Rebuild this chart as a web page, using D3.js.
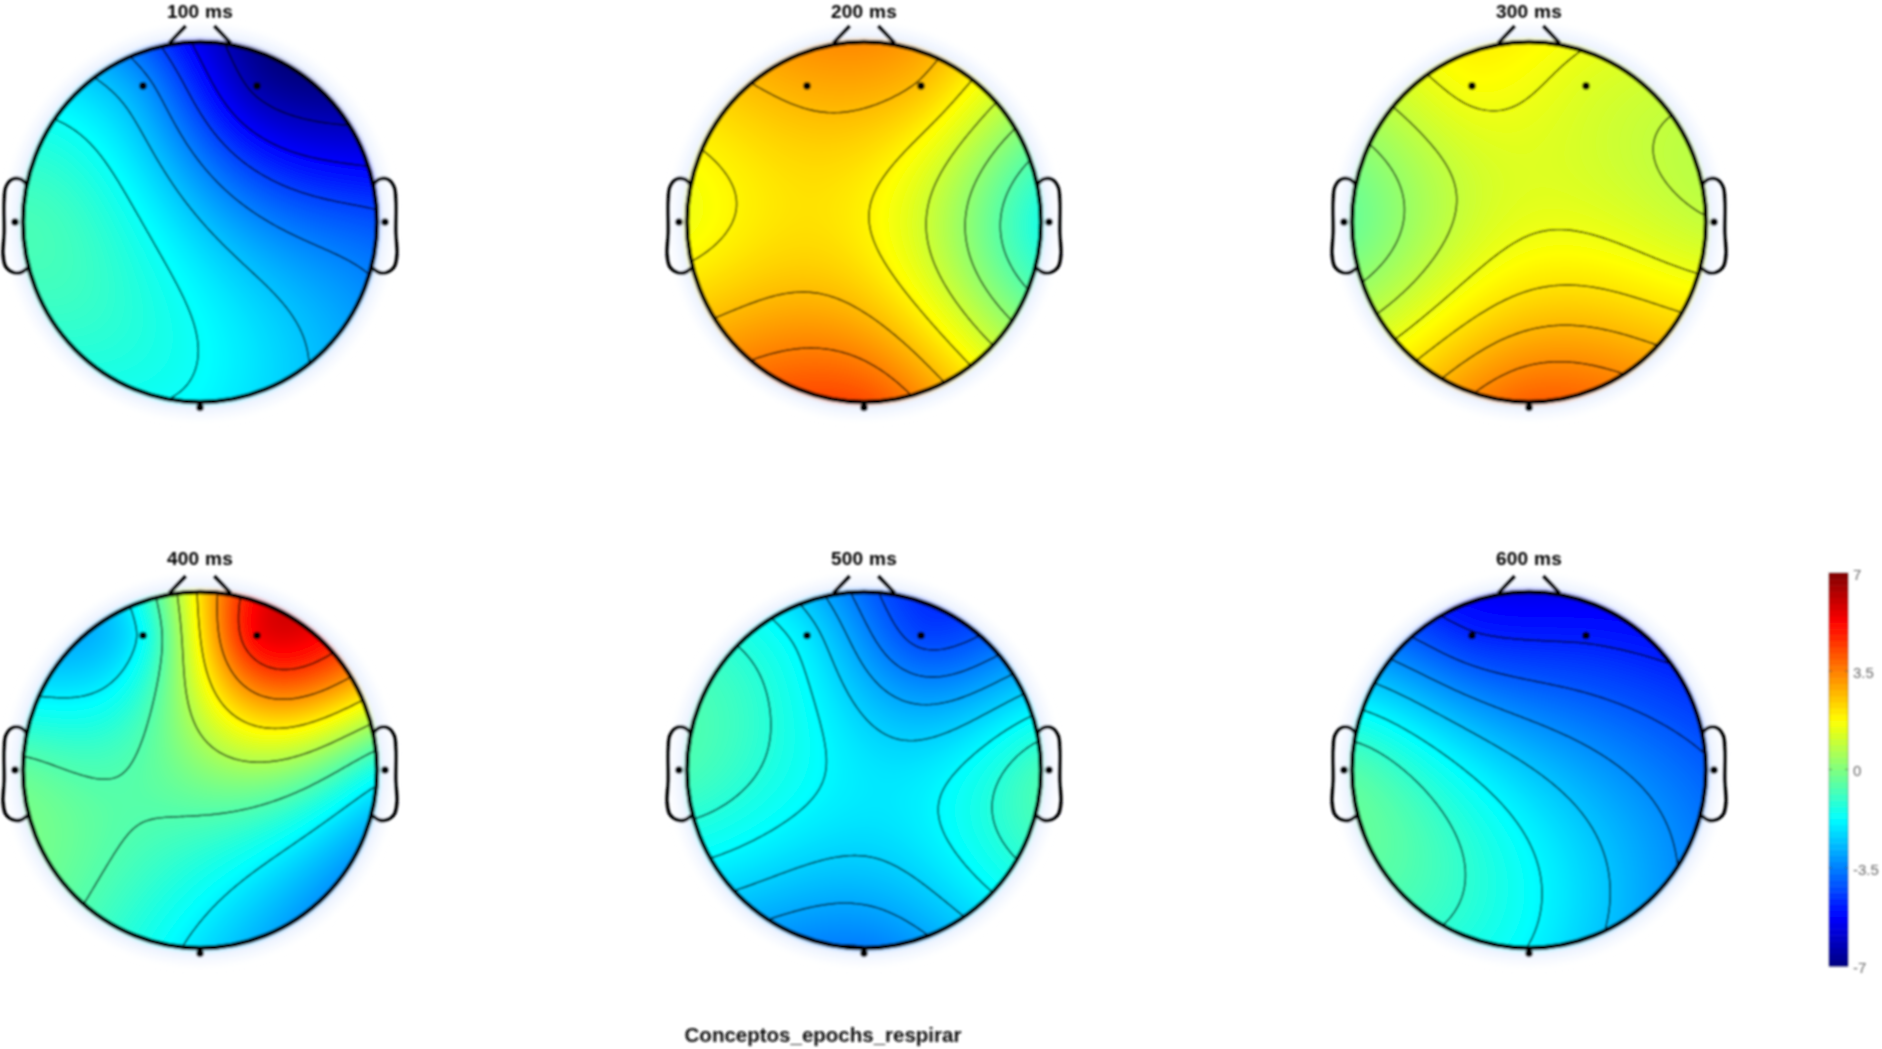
<!DOCTYPE html>
<html>
<head>
<meta charset="utf-8">
<script src="https://cdn.jsdelivr.net/npm/d3@7"></script>
<style>
html, body { margin: 0; padding: 0; background: #fff; }
svg { display: block; }
</style>
</head>
<body>
<div id="chart"></div>
<script>
//electrode sites, head units (head radius is 0.5, y points to the nose)
var siteNames = ["Fp1", "Fp2", "T7", "T8", "Oz"];
var siteX = [-0.161, 0.161, -0.5225, 0.5225, 0];
var siteY = [0.378, 0.378, 0, 0, -0.515];

//values at each electrode
var values100 = [-3.2, -6.4, -0.8, -4.2, -1.85];
var values200 = [2.9, 2.6, 1.55, -1.5, 4.3];
var values300 = [1.7, 1.3, -0.35, 0.95, 4.0];
var values400 = [-1.7, 5.3, -0.4, -1.6, -2.2];
var values500 = [-2.1, -4.3, -0.75, -0.75, -3.6];
var values600 = [-4.7, -4.9, -0.6, -4.0, -1.9];

var panelLabels = ["100 ms", "200 ms", "300 ms", "400 ms", "500 ms", "600 ms"];
var panelValues = [values100, values200, values300, values400, values500, values600];

var colorTicks = [7, 3.5, 0, -3.5, -7];
var jetStops = [-7, -5.25, -1.75, 1.75, 5.25, 7];
var jetColors = ["#000080", "#0000ff", "#00ffff", "#ffff00", "#ff0000", "#800000"];

var title = "Conceptos_epochs_respirar";

//head outline bits
var earX = [0.490, 0.505, 0.530, 0.548, 0.553, 0.553, 0.556, 0.548, 0.525, 0.505, 0.488];
var earY = [0.104, 0.118, 0.119, 0.098, 0.06, -0.03, -0.09, -0.125, -0.141, -0.140, -0.128];
var noseX = [0.087, 0.04];
var noseY = [0.497, 0.545];

//layout
var columns = [200, 864, 1529];
var rows = [{cy: 222, ry: 180, labelY: 18}, {cy: 770, ry: 178, labelY: 565}];
var rx = 177;
var gridSize = 181;
var gridEdge = 0.53;

var color = d3.scaleLinear().domain(jetStops).range(jetColors).clamp(true);
var colorLookup = d3.range(1401).map(function (i) {
    return d3.rgb(color(-7 + i / 100));
});

var svg = d3.select("#chart").append("svg")
    .attr("xmlns", "http://www.w3.org/2000/svg")
    .attr("width", 1882)
    .attr("height", 1049);

var defs = svg.append("defs");
function addBlur(id, size) {
    defs.append("filter")
        .attr("id", id)
        .attr("filterUnits", "userSpaceOnUse")
        .attr("x", 0).attr("y", 0).attr("width", 1882).attr("height", 1049)
        .append("feGaussianBlur")
        .attr("stdDeviation", size);
}
addBlur("soft", 0.85);
addBlur("halo", 6);
addBlur("fringe", 2);

var root = svg.append("g").attr("filter", "url(#soft)");

//small gaussian elimination, the same system griddata v4 solves
function solve(matrix, rhs) {
    var a = matrix.map(function (row, i) { return row.concat([rhs[i]]); });
    var n = a.length;
    for (var c = 0; c < n; c++) {
        var p = c;
        for (var r = c + 1; r < n; r++) {
            if (Math.abs(a[r][c]) > Math.abs(a[p][c])) p = r;
        }
        var tmp = a[c]; a[c] = a[p]; a[p] = tmp;
        for (var r2 = c + 1; r2 < n; r2++) {
            var f = a[r2][c] / a[c][c];
            for (var k = c; k <= n; k++) a[r2][k] -= f * a[c][k];
        }
    }
    var x = new Array(n);
    for (var i = n - 1; i >= 0; i--) {
        var s = a[i][n];
        for (var j = i + 1; j < n; j++) s -= a[i][j] * x[j];
        x[i] = s / a[i][i];
    }
    return x;
}

function green(d) {
    return d > 0 ? d * d * (Math.log(d) - 1) : 0;
}

function makeField(values) {
    var g = siteX.map(function (xa, i) {
        return siteX.map(function (xb, j) {
            return green(Math.hypot(xa - xb, siteY[i] - siteY[j]));
        });
    });
    var w = solve(g, values);
    return function (x, y) {
        var z = 0;
        for (var i = 0; i < w.length; i++) {
            z += w[i] * green(Math.hypot(x - siteX[i], y - siteY[i]));
        }
        return z;
    };
}

function drawPanel(values, label, cx, row, index) {
    var x = d3.scaleLinear().domain([-0.5, 0.5]).range([cx - rx, cx + rx]);
    var y = d3.scaleLinear().domain([0.5, -0.5]).range([row.cy - row.ry, row.cy + row.ry]);
    var field = makeField(values);

    //colour image of the field
    var left = Math.floor(x(-gridEdge)), top = Math.floor(y(gridEdge));
    var w = Math.ceil(x(gridEdge)) - left, h = Math.ceil(y(-gridEdge)) - top;
    var canvas = document.createElement("canvas");
    canvas.width = w;
    canvas.height = h;
    var ctx = canvas.getContext("2d");
    var img = ctx.createImageData(w, h);
    for (var j = 0; j < h; j++) {
        for (var i = 0; i < w; i++) {
            var z = field(x.invert(left + i + 0.5), y.invert(top + j + 0.5));
            var c = colorLookup[Math.max(0, Math.min(1400, Math.round((z + 7) * 100)))];
            var o = (j * w + i) * 4;
            img.data[o] = c.r;
            img.data[o + 1] = c.g;
            img.data[o + 2] = c.b;
            img.data[o + 3] = 255;
        }
    }
    ctx.putImageData(img, 0, 0);
    var href = canvas.toDataURL();

    //grid for the contour lines, six levels between min and max inside the head
    var gx = d3.scaleLinear().domain([0.5, gridSize - 0.5]).range([-gridEdge, gridEdge]);
    var gy = d3.scaleLinear().domain([0.5, gridSize - 0.5]).range([gridEdge, -gridEdge]);
    var grid = new Array(gridSize * gridSize);
    var inside = [];
    for (var b = 0; b < gridSize; b++) {
        for (var a = 0; a < gridSize; a++) {
            var px = gx(a + 0.5), py = gy(b + 0.5);
            var zz = field(px, py);
            grid[b * gridSize + a] = zz;
            if (Math.hypot(px, py) <= 0.5) inside.push(zz);
        }
    }
    var zmin = d3.min(inside), zmax = d3.max(inside);
    var levels = d3.range(1, 7).map(function (k) { return zmin + (zmax - zmin) * k / 7; });
    var contours = d3.contours().size([gridSize, gridSize]).thresholds(levels)(grid);
    var path = d3.geoPath(d3.geoTransform({
        point: function (a, b) { this.stream.point(x(gx(a)), y(gy(b))); }
    }));

    var g = root.append("g").attr("class", "panel");

    function clip(id, r) {
        defs.append("clipPath").attr("id", id)
            .append("ellipse")
            .attr("cx", cx).attr("cy", row.cy)
            .attr("rx", rx * r).attr("ry", row.ry * r);
        return "url(#" + id + ")";
    }

    g.append("ellipse")
        .attr("cx", cx).attr("cy", row.cy)
        .attr("rx", rx * 1.07).attr("ry", row.ry * 1.07)
        .attr("fill", "#ecf3ff")
        .attr("filter", "url(#halo)");

    //colour bleeding past the ring
    g.append("g").attr("filter", "url(#fringe)").attr("opacity", 0.6)
        .append("image")
        .attr("href", href)
        .attr("x", left).attr("y", top).attr("width", w).attr("height", h)
        .attr("clip-path", clip("edge" + index, 1.012));

    var inner = g.append("g").attr("clip-path", clip("head" + index, 1));
    inner.append("image")
        .attr("href", href)
        .attr("x", left).attr("y", top).attr("width", w).attr("height", h);
    inner.selectAll("path.level")
        .data(contours)
        .enter()
        .append("path")
        .attr("class", "level")
        .attr("d", path)
        .attr("fill", "none")
        .attr("stroke", "#000")
        .attr("stroke-width", 1.4);

    g.append("ellipse")
        .attr("cx", cx).attr("cy", row.cy)
        .attr("rx", rx).attr("ry", row.ry)
        .attr("fill", "none")
        .attr("stroke", "#000")
        .attr("stroke-width", 4.6);

    //ears and nose
    var earLine = d3.line().curve(d3.curveCatmullRom.alpha(0.5));
    [1, -1].forEach(function (side) {
        g.append("path")
            .attr("d", earLine(earX.map(function (v, i) { return [x(side * v), y(earY[i])]; })))
            .attr("fill", "none")
            .attr("stroke", "#000")
            .attr("stroke-width", 3.8);
        g.append("path")
            .attr("d", d3.line()(noseX.map(function (v, i) { return [x(side * v), y(noseY[i])]; })))
            .attr("fill", "none")
            .attr("stroke", "#000")
            .attr("stroke-width", 4);
    });

    g.selectAll("circle.site")
        .data(siteNames)
        .enter()
        .append("circle")
        .attr("class", "site")
        .attr("cx", function (d, i) { return x(siteX[i]); })
        .attr("cy", function (d, i) { return y(siteY[i]); })
        .attr("r", 3.8)
        .attr("fill", "#000");

    g.append("text")
        .attr("x", cx)
        .attr("y", row.labelY)
        .attr("text-anchor", "middle")
        .attr("font-family", "Liberation Sans, Arial, sans-serif")
        .attr("font-weight", "bold")
        .attr("font-size", "19px")
        .attr("letter-spacing", "0.3px")
        .attr("fill", "#000")
        .text(label);
}

panelValues.forEach(function (values, i) {
    drawPanel(values, panelLabels[i], columns[i % 3], rows[Math.floor(i / 3)], i);
});

//colour bar
var barScale = d3.scaleLinear().domain([-7, 7]).range([966, 573]);
var barSteps = d3.range(0, 64).map(function (i) { return -7 + 14 * (i + 0.5) / 64; });
var bar = root.append("g").attr("class", "colorbar");
bar.selectAll("rect")
    .data(barSteps)
    .enter()
    .append("rect")
    .attr("x", 1829)
    .attr("width", 19)
    .attr("y", function (d) { return barScale(d + 7 / 64); })
    .attr("height", function (d) { return barScale(d - 7 / 64) - barScale(d + 7 / 64) + 0.5; })
    .attr("fill", function (d) { return color(d); });

var barAxis = d3.axisRight(barScale)
    .tickValues(colorTicks)
    .tickSize(0)
    .tickPadding(5)
    .tickFormat(function (d) { return String(d); });
var axisG = bar.append("g")
    .attr("transform", "translate(1848,1.5)")
    .call(barAxis);
axisG.select(".domain").remove();
axisG.selectAll("text")
    .attr("font-family", "Liberation Sans, Arial, sans-serif")
    .attr("font-size", "15px")
    .attr("fill", "#666");

bar.selectAll("line.tick-mark")
    .data(colorTicks.slice(1, 4))
    .enter()
    .append("line")
    .attr("class", "tick-mark")
    .attr("x1", 1829).attr("x2", 1848)
    .attr("y1", function (d) { return barScale(d); })
    .attr("y2", function (d) { return barScale(d); })
    .attr("stroke", "#333")
    .attr("stroke-dasharray", "3 13")
    .attr("stroke-opacity", 0.6);

bar.append("rect")
    .attr("x", 1829).attr("y", 573).attr("width", 19).attr("height", 393)
    .attr("fill", "none")
    .attr("stroke", "#333")
    .attr("stroke-opacity", 0.4);

root.append("text")
    .attr("x", 823)
    .attr("y", 1042)
    .attr("text-anchor", "middle")
    .attr("font-family", "Liberation Sans, Arial, sans-serif")
    .attr("font-weight", "bold")
    .attr("font-size", "20.5px")
    .attr("fill", "#111")
    .text(title);
</script>
</body>
</html>
